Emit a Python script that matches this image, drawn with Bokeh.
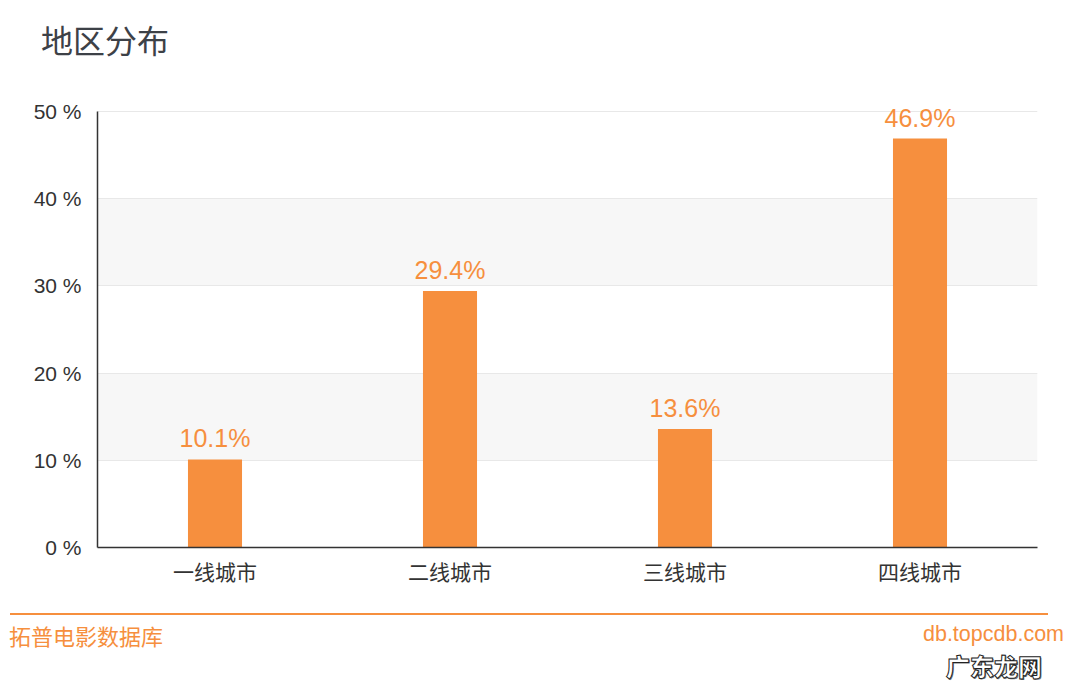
from bokeh.plotting import figure
from bokeh.models import (ColumnDataSource, PrintfTickFormatter, Range1d, FixedTicker, Div,
                          BoxAnnotation)
from bokeh.layouts import column
from bokeh.core.properties import value
from bokeh.embed import file_html
from bokeh.resources import INLINE

categories = ["一线城市", "二线城市", "三线城市", "四线城市"]
shares = [10.1, 29.4, 13.6, 46.9]
share_labels = ["10.1%", "29.4%", "13.6%", "46.9%"]
y_ticks = [0, 10, 20, 30, 40, 50]

title_text = "地区分布"
footer_left = "拓普电影数据库"
footer_right = "db.topcdb.com"
watermark = "广东龙网"

ORANGE = "#f68f3e"
CJK = "Noto Sans CJK SC"
LAT = "Liberation Sans"

src = ColumnDataSource(dict(cat=categories, val=shares, lab=share_labels))

title_div = Div(width=1064, height=94, margin=0, text=(
    f'<div style="position:relative;width:1064px;height:94px;">'
    f'<div style="position:absolute;left:41px;top:18px;line-height:42px;font-size:32px;'
    f'font-family:\'{CJK}\';color:#3d4147;white-space:nowrap;">{title_text}</div></div>'))

p = figure(x_range=categories, y_range=Range1d(0, 50.8), width=1064, height=506,
           output_backend="svg", toolbar_location=None, margin=0,
           min_border_left=97, min_border_right=27, min_border_top=10, min_border_bottom=53)
p.outline_line_color = None
p.background_fill_color = "white"

# alternate grey bands between tick pairs (10-20, 30-40)
for lo, hi in zip(y_ticks[1::2], y_ticks[2::2]):
    p.add_layout(BoxAnnotation(bottom=lo, top=hi, fill_color="#f7f7f7", fill_alpha=1.0,
                               line_color=None, level="image"))

p.vbar(x="cat", top="val", width=0.23, source=src, fill_color=ORANGE, line_color=None)
p.text(x="cat", y="val", text="lab", source=src, text_align="center",
       text_baseline="bottom", y_offset=-7, text_color=ORANGE,
       text_font=value(LAT), text_font_size="25px")

p.xgrid.grid_line_color = None
p.ygrid.grid_line_color = "#e8e8e8"
p.ygrid.band_fill_color = None

p.yaxis.ticker = FixedTicker(ticks=y_ticks)
p.yaxis.bounds = (0, 50)
p.yaxis.formatter = PrintfTickFormatter(format="%d %%")
for ax in (p.xaxis, p.yaxis):
    ax.axis_line_color = "#333333"
    ax.axis_line_width = 1.5
    ax.major_tick_line_color = None
    ax.major_tick_out = 0
    ax.major_tick_in = 0
    ax.minor_tick_line_color = None
    ax.major_label_text_color = "#333333"
p.yaxis.major_label_text_font = LAT
p.yaxis.major_label_text_font_size = "21px"
p.yaxis.major_label_standoff = 16
p.xaxis.major_label_text_font = CJK
p.xaxis.major_label_text_font_size = "21px"
p.xaxis.major_label_standoff = 8

footer_div = Div(width=1064, height=90, margin=0, text=(
    f'<div style="position:relative;width:1064px;height:90px;">'
    f'<div style="position:absolute;left:10px;top:13px;width:1038px;height:0;'
    f'border-top:2px solid {ORANGE};"></div>'
    f'<div style="position:absolute;left:9px;top:20px;line-height:30px;font-size:22px;'
    f'font-family:\'{CJK}\';color:{ORANGE};white-space:nowrap;">{footer_left}</div>'
    f'<div style="position:absolute;right:0px;top:22px;line-height:24px;font-size:21.5px;'
    f'font-family:\'{LAT}\';color:{ORANGE};white-space:nowrap;">{footer_right}</div>'
    f'<div style="position:absolute;left:946px;top:53px;line-height:25px;font-size:24px;'
    f'font-weight:900;font-family:\'{CJK}\';color:#ffffff;-webkit-text-stroke:1px #222;'
    f'text-shadow:1px 1px 0 #777;white-space:nowrap;">{watermark}</div></div>'))

layout = column(title_div, p, footer_div, spacing=0)
open("out.html", "w").write(file_html(layout, INLINE))
